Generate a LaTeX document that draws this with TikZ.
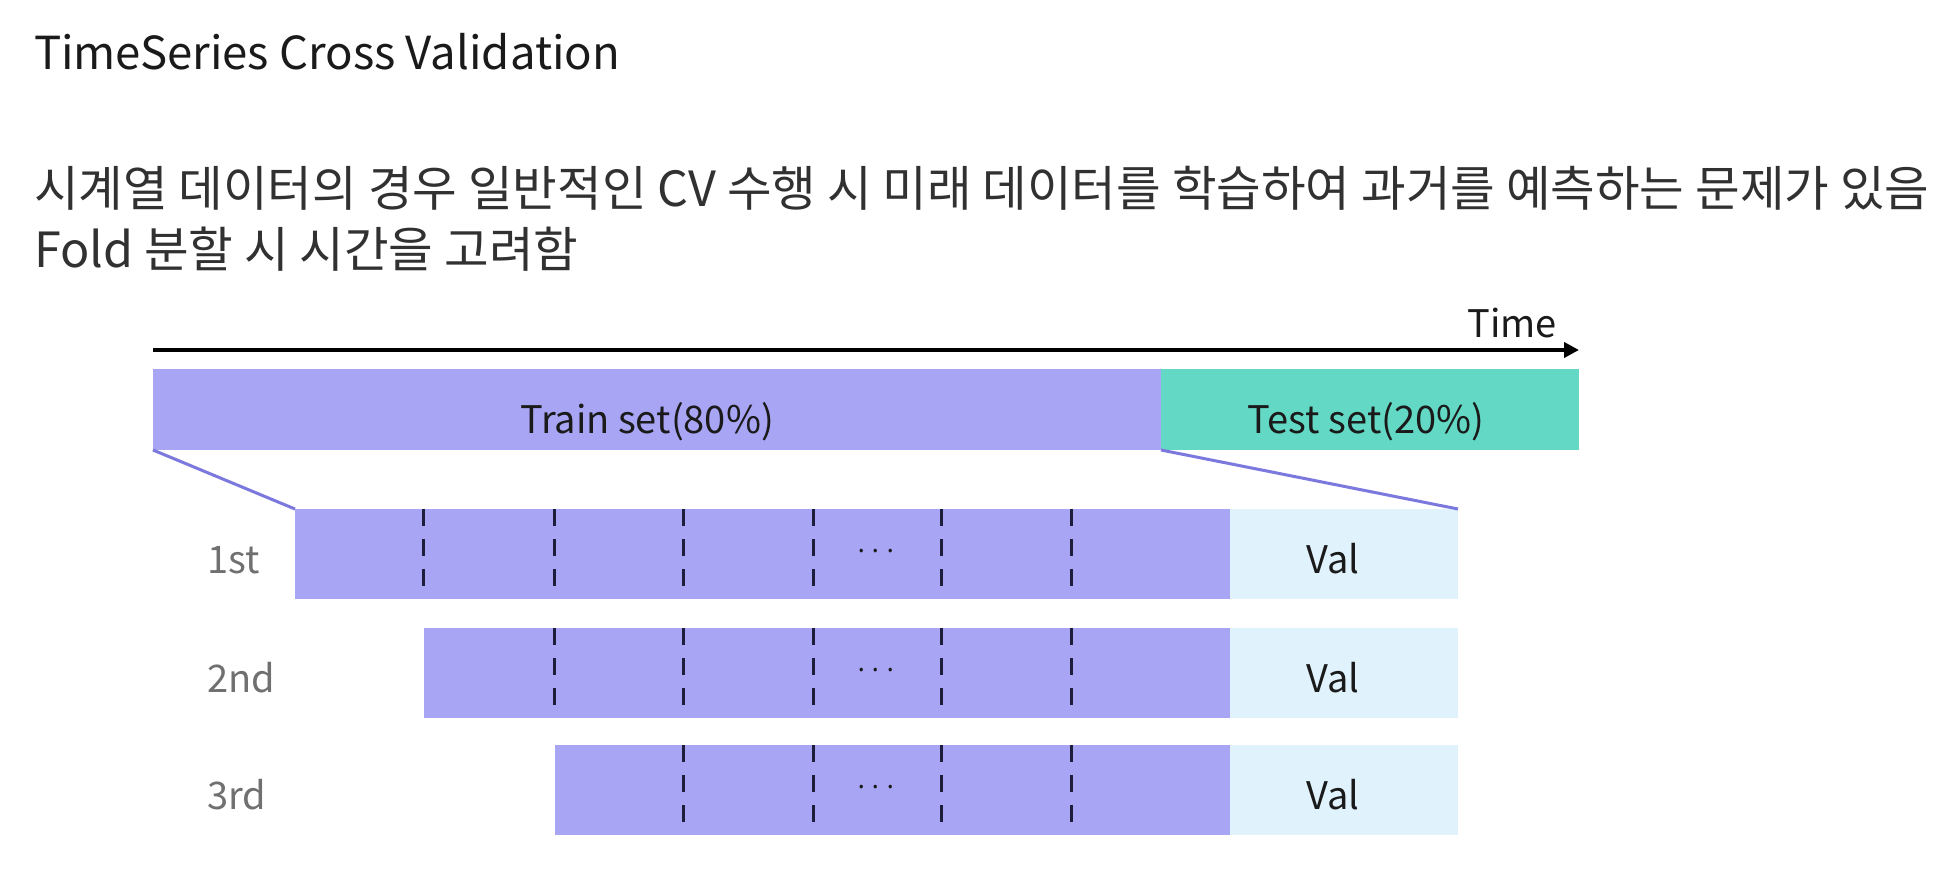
\documentclass[tikz,border=0pt]{standalone}
\usepackage{fontspec}
\setmainfont{Noto Sans CJK KR}
\usetikzlibrary{arrows.meta}
\definecolor{trainc}{HTML}{A8A5F5}
\definecolor{testc}{HTML}{63D8C4}
\definecolor{valc}{HTML}{E0F3FC}
\definecolor{linkc}{HTML}{7B78DE}
\definecolor{dashc}{HTML}{1E1E3C}
\definecolor{labelc}{HTML}{707070}
\definecolor{textc}{HTML}{1A1A1A}
\newcommand\tsTitleFont{\fontsize{45.5pt}{54pt}\selectfont}
\newcommand\tsBodyFont{\fontsize{48.5pt}{58pt}\selectfont}
\newcommand\tsBarFont{\fontsize{38pt}{46pt}\selectfont}
\newcommand\tsDotFont{\fontsize{26pt}{32pt}\selectfont}
\begin{document}
\begin{tikzpicture}[x=1pt,y=-1pt,
  bar/.style={rectangle, inner sep=0pt, outer sep=0pt, anchor=north west, draw=none},
  txt/.style={inner sep=0pt, outer sep=0pt, text=textc},
  rowlabel/.style={inner sep=0pt, outer sep=0pt, text=labelc, font=\tsBarFont, anchor=base west},
  link/.style={draw=linkc, line width=3pt},
  dashline/.style={draw=dashc, line width=3pt, dash pattern=on 17pt off 13pt},
  timearrow/.style={draw=black, line width=4pt, -{Triangle[length=15pt,width=15pt]}},
  dots/.style={inner sep=0pt, text=textc, font=\tsDotFont}]
\useasboundingbox[fill=white] (0,0) rectangle (1954,868);

% titles
\node[txt, anchor=base west, font=\tsTitleFont] (title) at (34,69) {TimeSeries Cross Validation};
\node[txt, anchor=base west, font=\tsBodyFont, text=textc!90] (line1) at (34,206) {시계열 데이터의 경우 일반적인 CV 수행 시 미래 데이터를 학습하여 과거를 예측하는 문제가 있음};
\node[txt, anchor=base west, font=\tsBodyFont, text=textc!90] (line2) at (34,267) {Fold 분할 시 시간을 고려함};

% time axis
\coordinate (tstart) at (153,350);
\coordinate (tend) at (1579,350);
\draw[timearrow] (tstart) -- (tend);
\node[txt, anchor=base east, font=\tsBarFont] (time) at (1557,337) {Time};

% train / test
\node[bar, fill=trainc, minimum width=1008pt, minimum height=81pt] (train) at (153,369) {};
\node[bar, fill=testc, minimum width=418pt, minimum height=81pt] (test) at (train.north east) {};
\node[txt, anchor=base, font=\tsBarFont] (traintxt) at (647,433) {Train set(80\%)};
\node[txt, anchor=base, font=\tsBarFont] (testtxt) at (1366,433) {Test set(20\%)};

% folds
\node[bar, fill=trainc, minimum width=935pt, minimum height=90pt] (r1) at (295,509) {};
\node[bar, fill=valc, minimum width=228pt, minimum height=90pt] (v1) at (r1.north east) {};
\node[bar, fill=trainc, minimum width=806pt, minimum height=90pt] (r2) at (424,628) {};
\node[bar, fill=valc, minimum width=228pt, minimum height=90pt] (v2) at (r2.north east) {};
\node[bar, fill=trainc, minimum width=675pt, minimum height=90pt] (r3) at (555,745) {};
\node[bar, fill=valc, minimum width=228pt, minimum height=90pt] (v3) at (r3.north east) {};

% zoom connectors
\draw[link] (train.south west) -- (r1.north west);
\draw[link] (train.south east) -- (v1.north east);

% dashed split lines
\foreach \x in {423,554,683,813,941,1071} \draw[dashline] (\x,509) -- (\x,586);
\foreach \x in {554,683,813,941,1071} \draw[dashline] (\x,628) -- (\x,705);
\foreach \x in {683,813,941,1071} \draw[dashline] (\x,745) -- (\x,822);

\node[dots] (d1) at (876,555) {···};
\node[dots] (d2) at (876,674) {···};
\node[dots] (d3) at (876,791) {···};

% labels
\node[rowlabel] (lab1) at (207,573) {1st};
\node[rowlabel] (lab2) at (207,692) {2nd};
\node[rowlabel] (lab3) at (207,809) {3rd};
\node[txt, anchor=base, font=\tsBarFont] (val1) at (1333,573) {Val};
\node[txt, anchor=base, font=\tsBarFont] (val2) at (1333,692) {Val};
\node[txt, anchor=base, font=\tsBarFont] (val3) at (1333,809) {Val};
\end{tikzpicture}
\end{document}
